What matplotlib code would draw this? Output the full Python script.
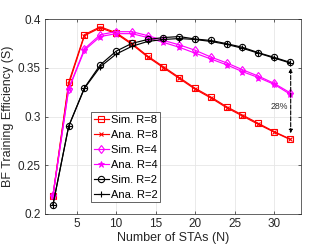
import matplotlib
matplotlib.use("Agg")
import matplotlib.pyplot as plt

plt.rcParams['font.family'] = ['Liberation Sans', 'DejaVu Sans']

# number of STAs
n_sta = [2, 4, 6, 8, 10, 12, 14, 16, 18, 20, 22, 24, 26, 28, 30, 32]

sim_r8 = [0.2185, 0.335, 0.384, 0.392, 0.386, 0.375, 0.362, 0.351, 0.340,
          0.329, 0.320, 0.310, 0.3015, 0.293, 0.2845, 0.277]
ana_r8 = [0.2180, 0.333, 0.383, 0.391, 0.385, 0.374, 0.361, 0.350, 0.339,
          0.328, 0.319, 0.309, 0.3005, 0.292, 0.2840, 0.2765]
sim_r4 = [0.219, 0.3285, 0.3695, 0.384, 0.387, 0.387, 0.383, 0.378, 0.3735,
          0.368, 0.361, 0.355, 0.348, 0.3415, 0.334, 0.3245]
ana_r4 = [0.218, 0.328, 0.368, 0.382, 0.385, 0.385, 0.381, 0.376, 0.371,
          0.365, 0.359, 0.353, 0.346, 0.340, 0.333, 0.323]
sim_r2 = [0.209, 0.290, 0.3296, 0.353, 0.367, 0.375, 0.379, 0.381, 0.382,
          0.3795, 0.378, 0.3747, 0.371, 0.3655, 0.3607, 0.3556]
ana_r2 = [0.209, 0.290, 0.329, 0.351, 0.364, 0.372, 0.377, 0.379, 0.380,
          0.379, 0.377, 0.374, 0.370, 0.365, 0.360, 0.355]

fig = plt.figure(figsize=(3.32, 2.49), dpi=100)
ax = fig.add_axes([0.1355, 0.1406, 0.771, 0.783])

lw = 0.85
ax.plot(n_sta, sim_r8, '-s', color='red', lw=lw, ms=4, mfc='none', mew=0.8, label='Sim. R=8')
ax.plot(n_sta, ana_r8, '-x', color='red', lw=lw, ms=3.5, mew=0.8, label='Ana. R=8')
ax.plot(n_sta, sim_r4, '-d', color='magenta', lw=lw, ms=4.5, mfc='none', mew=0.8, label='Sim. R=4')
ax.plot(n_sta, ana_r4, '-*', color='magenta', lw=lw, ms=4.5, mew=0.6, label='Ana. R=4')
ax.plot(n_sta, sim_r2, '-o', color='black', lw=lw, ms=4.5, mfc='none', mew=0.8, label='Sim. R=2')
ax.plot(n_sta, ana_r2, '-+', color='black', lw=lw, ms=5, mew=0.8, label='Ana. R=2')

# gap annotation between R=2 and R=8 at N=32
ax.annotate('', xy=(32.1, 0.2828), xytext=(32.1, 0.3494),
            arrowprops=dict(arrowstyle='<|-|>', ls='--', lw=0.8, color='black',
                            mutation_scale=5, shrinkA=0, shrinkB=0))
ax.text(30.6, 0.310, '28%', fontsize=6.3, color='#333333', ha='center', va='center')

ax.set_xlim(1, 33.4)
ax.set_ylim(0.2, 0.4)
ax.set_xticks([5, 10, 15, 20, 25, 30])
ax.set_yticks([0.2, 0.25, 0.3, 0.35, 0.4])
ax.set_yticklabels(['0.2', '0.25', '0.3', '0.35', '0.4'])
ax.grid(True, color='#e6e6e6', lw=0.6)
ax.set_axisbelow(True)
ax.tick_params(direction='in', length=2.5, width=0.5, labelsize=8.5, colors='#262626',
               top=True, right=True, pad=3)
for s in ax.spines.values():
    s.set_color('#262626')
    s.set_linewidth(0.5)

ax.set_xlabel('Number of STAs (N)', fontsize=9, color='#262626', labelpad=1)
ax.set_ylabel('BF Training Efficiency (S)', fontsize=9, color='#262626', labelpad=3)

leg = ax.legend(loc='lower left', bbox_to_anchor=(0.18, 0.06), fontsize=8,
                handlelength=1.35, handletextpad=0.15, labelspacing=0.45,
                borderpad=0.25, borderaxespad=0, fancybox=False, framealpha=1,
                edgecolor='#262626')
leg.get_frame().set_linewidth(0.5)

fig.savefig('out.png', dpi=100)
